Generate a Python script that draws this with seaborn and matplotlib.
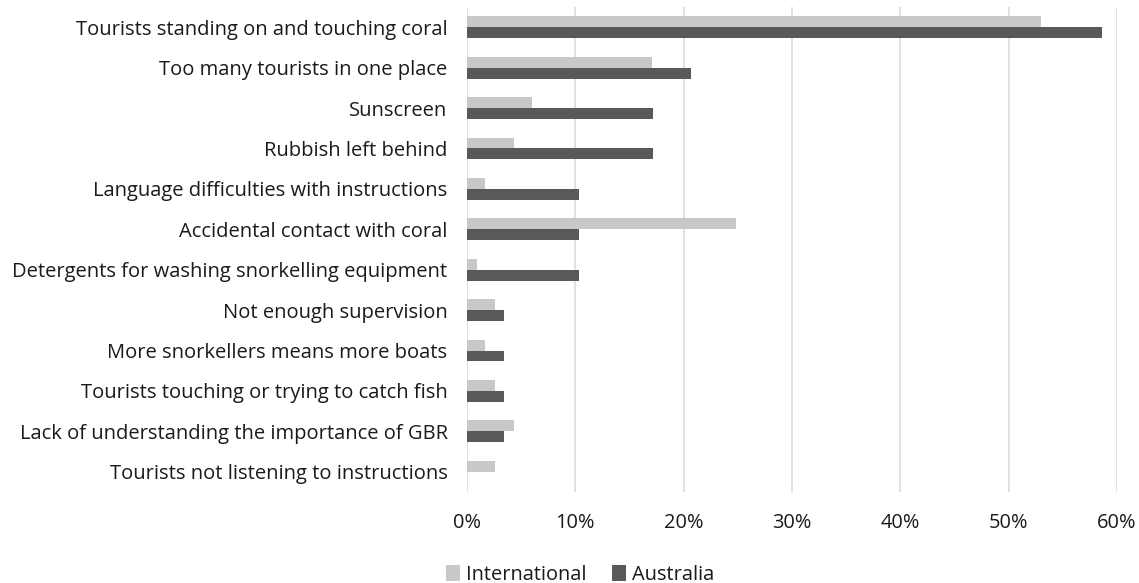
import matplotlib
matplotlib.use("Agg")
import matplotlib.pyplot as plt
import seaborn as sns
import pandas as pd

categories = [
    "Tourists standing on and touching coral",
    "Too many tourists in one place",
    "Sunscreen",
    "Rubbish left behind",
    "Language difficulties with instructions",
    "Accidental contact with coral",
    "Detergents for washing snorkelling equipment",
    "Not enough supervision",
    "More snorkellers means more boats",
    "Tourists touching or trying to catch fish",
    "Lack of understanding the importance of GBR",
    "Tourists not listening to instructions",
]
international = [53.0, 17.1, 6.0, 4.3, 1.7, 24.8, 0.9, 2.6, 1.7, 2.6, 4.3, 2.6]
australia = [58.6, 20.7, 17.2, 17.2, 10.3, 10.3, 10.3, 3.4, 3.4, 3.4, 3.4, 0.0]
series = ["International", "Australia"]
xticks = [0, 10, 20, 30, 40, 50, 60]

df = pd.DataFrame({
    "category": categories * 2,
    "value": international + australia,
    "group": [series[0]] * len(categories) + [series[1]] * len(categories),
})

sns.set_theme(style="white")
plt.rcParams["font.family"] = ["Open Sans", "DejaVu Sans"]
text_color = "#1a1a1a"

fig = plt.figure(figsize=(11.39, 5.83), dpi=100)
ax = fig.add_axes([467 / 1139, 1 - 492 / 583, (1117 - 467) / 1139, (492 - 7) / 583])

sns.barplot(data=df, y="category", x="value", hue="group", hue_order=series,
            order=categories, palette=["#C8C8C8", "#595959"], width=0.54,
            orient="h", ax=ax, saturation=1, legend=True, linewidth=0)

ax.set_xlim(0, 60)
ax.set_xticks(xticks)
ax.set_xticklabels([f"{t}%" for t in xticks])
ax.set_ylim(len(categories) - 0.5, -0.5)
ax.set_xlabel("")
ax.set_ylabel("")
for s in ax.spines.values():
    s.set_visible(False)
ax.grid(axis="x", color="#DEDEDE", linewidth=1.3)
ax.grid(axis="y", visible=False)
ax.set_axisbelow(True)
ax.tick_params(axis="y", length=0, pad=14, labelsize=14.5, labelcolor=text_color)
ax.tick_params(axis="x", length=0, pad=15, labelsize=14.4, labelcolor=text_color)

ax.get_legend().remove()
handles, labels = ax.get_legend_handles_labels()
fig.legend(handles, labels, loc="lower center", bbox_to_anchor=(0.5095, -0.034),
           ncol=2, frameon=False, fontsize=14.4, handlelength=0.7, handleheight=0.85,
           handletextpad=0.3, columnspacing=1.3, labelcolor=text_color)

fig.savefig("out.png", dpi=100)
